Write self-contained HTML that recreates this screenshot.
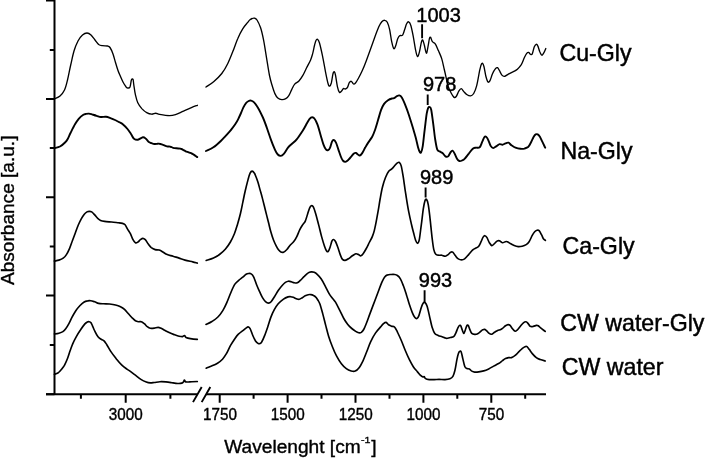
<!DOCTYPE html>
<html><head><meta charset="utf-8"><title>FTIR spectra</title>
<style>
html,body{margin:0;padding:0;background:#fff;}
svg{display:block;font-family:"Liberation Sans",Arial,sans-serif;fill:#000;}
</style></head><body>
<svg width="705" height="458" viewBox="0 0 705 458">
<rect width="705" height="458" fill="#fff"/>
<g fill="none" stroke="#000" stroke-linecap="round" stroke-linejoin="round">
<path d="M54.5 99.0C55.4 98.5 58.3 97.5 60.0 96.0C61.7 94.5 63.2 92.7 64.5 90.0C65.8 87.3 66.5 84.2 67.5 80.0C68.5 75.8 69.6 69.8 70.7 65.0C71.8 60.2 72.8 55.0 74.0 51.0C75.2 47.0 76.6 43.7 78.0 41.0C79.4 38.3 81.0 36.3 82.5 35.0C84.0 33.7 85.6 33.0 87.0 33.0C88.4 33.0 89.7 33.8 91.0 35.0C92.3 36.2 93.7 38.4 95.0 40.0C96.3 41.6 97.5 43.5 98.7 44.5C100.0 45.5 101.0 45.5 102.5 45.7C104.0 46.0 106.2 45.7 107.5 46.0C108.8 46.3 109.1 46.2 110.0 47.5C110.9 48.8 112.1 51.5 113.0 54.0C113.9 56.5 114.7 59.8 115.5 62.5C116.3 65.2 117.2 68.2 118.0 70.5C118.8 72.8 119.7 74.6 120.5 76.5C121.3 78.4 122.2 80.4 123.0 82.0C123.8 83.6 124.8 85.0 125.5 86.0C126.2 87.0 126.3 87.6 127.0 87.8C127.7 88.0 129.2 88.5 129.9 87.2C130.6 85.9 130.9 81.3 131.4 80.0C131.9 78.7 132.6 78.5 133.0 79.3C133.4 80.1 133.4 82.2 133.8 84.8C134.2 87.4 134.7 91.7 135.4 94.7C136.1 97.7 136.7 100.4 137.8 102.7C138.9 105.0 140.3 106.9 141.8 108.6C143.3 110.2 145.0 111.7 146.7 112.6C148.3 113.5 150.2 114.1 151.7 114.2C153.2 114.3 154.4 113.2 155.7 113.2C157.0 113.2 157.3 114.0 159.6 114.4C161.9 114.8 166.9 115.6 169.6 115.6C172.2 115.6 173.2 115.3 175.5 114.6C177.8 113.9 180.8 112.3 183.5 111.2C186.2 110.1 189.1 108.7 191.4 107.7C193.7 106.7 196.4 105.7 197.4 105.3" stroke-width="1.35"/>
<path d="M206.0 87.0C207.3 86.1 211.3 83.7 213.9 81.4C216.5 79.2 219.5 76.5 221.8 73.5C224.1 70.5 226.0 67.2 227.8 63.5C229.6 59.9 231.2 55.7 232.8 51.6C234.5 47.5 236.0 42.5 237.7 38.7C239.3 34.9 241.0 31.5 242.7 28.8C244.4 26.1 246.5 23.9 247.7 22.4C248.9 20.9 249.2 20.4 250.0 19.8C250.8 19.2 251.4 18.8 252.2 18.5C252.9 18.2 253.7 17.9 254.5 18.2C255.3 18.4 256.0 18.4 257.0 20.0C258.0 21.6 259.5 24.5 260.6 27.8C261.7 31.1 262.5 34.7 263.5 39.7C264.5 44.7 265.5 51.6 266.5 57.6C267.5 63.6 268.6 71.0 269.5 75.5C270.4 80.0 271.0 81.7 271.9 84.7C272.8 87.7 273.9 91.4 274.9 93.6C275.9 95.8 276.6 97.0 277.8 98.0C279.0 99.0 280.5 99.5 281.8 99.6C283.1 99.7 284.6 99.3 285.8 98.6C287.0 97.9 287.8 97.1 288.8 95.6C289.8 94.1 290.7 91.5 291.7 89.6C292.7 87.7 293.5 85.5 294.7 84.1C295.9 82.7 297.4 82.7 298.7 81.3C300.0 79.9 301.4 78.0 302.7 75.7C304.0 73.5 305.3 70.4 306.6 67.8C307.9 65.2 309.6 62.2 310.6 59.9C311.6 57.6 311.9 56.4 312.6 53.9C313.3 51.4 314.0 47.2 314.6 45.0C315.2 42.8 315.5 41.5 316.0 40.5C316.5 39.5 316.9 38.9 317.5 39.3C318.1 39.7 318.7 40.2 319.5 43.0C320.3 45.8 321.5 51.1 322.5 55.9C323.5 60.7 324.6 67.2 325.5 71.8C326.4 76.4 327.4 81.3 328.1 83.7C328.8 86.1 329.1 86.3 329.7 86.1C330.2 85.9 330.8 84.8 331.4 82.7C331.9 80.7 332.5 75.6 333.0 73.8C333.5 72.0 334.0 71.5 334.4 71.8C334.8 72.1 335.1 73.2 335.6 75.7C336.1 78.2 336.8 84.0 337.4 86.7C338.0 89.5 338.7 91.5 339.4 92.2C340.1 93.0 340.7 91.8 341.4 91.2C342.1 90.6 342.8 89.0 343.4 88.6C344.0 88.2 344.6 89.2 345.3 89.0C346.0 88.8 346.6 88.8 347.3 87.7C348.0 86.7 348.6 83.8 349.3 82.7C350.0 81.6 350.6 81.1 351.3 81.3C352.0 81.5 352.8 83.7 353.5 84.0C354.2 84.3 354.7 83.9 355.5 83.0C356.3 82.1 357.2 80.5 358.3 78.5C359.4 76.5 360.9 73.7 362.2 70.8C363.5 67.9 364.9 64.4 366.2 60.9C367.5 57.4 368.8 53.7 370.2 49.9C371.6 46.1 373.1 41.9 374.5 38.0C375.9 34.1 377.6 29.5 378.8 26.8C380.0 24.1 380.8 22.9 381.8 21.8C382.8 20.7 383.8 20.2 384.7 20.3C385.6 20.4 386.5 20.6 387.3 22.2C388.1 23.8 389.0 26.6 389.7 29.8C390.4 33.1 391.0 38.6 391.7 41.7C392.4 44.8 393.0 47.9 393.7 48.6C394.4 49.3 395.0 47.4 395.7 45.7C396.4 44.1 397.0 40.4 397.7 38.7C398.4 37.0 398.8 36.3 399.6 35.7C400.4 35.1 401.8 36.1 402.6 35.1C403.4 34.1 403.9 31.7 404.6 29.8C405.3 27.9 405.9 25.1 406.6 23.8C407.3 22.5 407.9 21.6 408.6 21.8C409.3 22.0 409.9 22.5 410.6 24.8C411.4 27.1 412.3 31.6 413.1 35.7C413.9 39.8 414.8 46.1 415.5 49.6C416.2 53.1 416.8 56.3 417.5 56.6C418.2 56.9 418.8 54.1 419.5 51.6C420.2 49.1 420.9 43.6 421.5 41.7C422.1 39.8 422.4 39.6 422.9 40.3C423.4 41.0 423.9 43.6 424.5 45.7C425.1 47.9 425.8 53.0 426.4 53.2C427.0 53.4 427.5 49.1 428.0 46.7C428.5 44.3 429.0 40.3 429.4 38.7C429.8 37.1 430.1 36.8 430.6 37.3C431.1 37.8 431.6 40.6 432.4 41.7C433.2 42.8 434.4 42.6 435.4 44.1C436.4 45.6 437.3 48.2 438.4 50.6C439.4 53.0 440.7 55.5 441.7 58.6C442.7 61.8 443.5 66.2 444.3 69.5C445.1 72.8 445.7 75.7 446.3 78.4C446.9 81.1 447.1 83.2 447.9 85.6C448.7 87.9 449.9 90.6 450.9 92.5C451.9 94.4 452.9 96.4 453.8 97.1C454.7 97.8 455.4 97.5 456.2 96.5C457.0 95.5 458.0 92.5 458.8 91.2C459.6 89.9 460.4 88.5 461.2 88.6C462.0 88.7 462.9 90.6 463.8 91.6C464.7 92.6 465.6 93.8 466.7 94.5C467.8 95.2 469.5 96.1 470.7 95.9C471.9 95.7 472.7 95.2 473.7 93.5C474.7 91.8 475.7 89.4 476.7 85.6C477.7 81.8 478.9 74.2 479.6 70.7C480.4 67.2 480.7 65.9 481.2 64.7C481.7 63.5 482.1 63.1 482.6 63.4C483.1 63.7 483.4 64.5 484.0 66.7C484.6 68.9 485.3 74.2 486.0 76.7C486.7 79.2 487.3 81.3 488.0 82.0C488.7 82.7 489.2 82.0 490.0 80.6C490.8 79.2 491.6 75.7 492.5 73.7C493.4 71.7 494.7 69.7 495.5 68.7C496.3 67.7 496.8 67.4 497.5 67.7C498.2 68.0 498.8 69.5 499.5 70.7C500.2 71.9 501.1 74.2 501.9 75.1C502.7 76.0 503.4 76.5 504.5 76.3C505.6 76.1 506.9 74.9 508.4 74.1C509.9 73.3 511.9 72.5 513.4 71.7C514.9 70.9 516.1 70.5 517.4 69.3C518.7 68.1 520.1 66.6 521.3 64.7C522.4 62.8 523.4 59.7 524.3 57.8C525.2 55.9 526.0 54.3 526.7 53.4C527.4 52.5 528.1 52.3 528.7 52.4C529.3 52.5 529.7 54.0 530.3 54.2C530.9 54.4 531.6 55.0 532.3 53.8C532.9 52.6 533.6 48.5 534.2 46.9C534.9 45.3 535.6 44.5 536.2 44.3C536.8 44.1 537.2 44.6 537.8 45.9C538.4 47.1 539.1 50.2 539.8 51.8C540.5 53.3 541.1 55.0 541.8 55.2C542.5 55.4 543.1 53.9 543.8 52.8C544.5 51.7 545.5 49.2 545.8 48.5" stroke-width="1.35"/>
<path d="M54.5 148.2C55.4 147.9 58.2 147.4 60.0 146.5C61.8 145.6 63.7 143.8 65.0 142.5C66.3 141.2 66.8 140.6 67.7 139.0C68.6 137.4 69.3 135.4 70.5 133.0C71.7 130.6 73.6 126.6 75.0 124.3C76.4 122.0 77.4 120.5 78.7 118.9C80.0 117.4 81.8 115.8 83.0 115.0C84.2 114.2 85.0 114.1 86.0 113.9C87.0 113.7 87.9 113.5 88.9 113.6C89.9 113.7 90.7 114.0 92.0 114.4C93.3 114.8 95.1 115.4 96.6 115.8C98.1 116.2 99.3 116.8 100.9 117.0C102.5 117.2 104.3 116.6 106.0 116.8C107.7 117.0 109.5 117.8 111.0 118.3C112.5 118.8 113.6 119.3 115.0 120.0C116.4 120.7 118.3 121.6 119.6 122.3C120.8 123.0 121.2 122.9 122.5 124.0C123.8 125.1 126.1 127.3 127.5 129.0C128.9 130.7 129.9 132.4 131.0 134.0C132.1 135.6 132.8 137.8 134.0 138.7C135.2 139.6 136.4 139.9 137.9 139.7C139.4 139.5 141.6 137.5 142.9 137.3C144.2 137.1 144.9 137.9 145.9 138.7C146.9 139.5 148.0 141.3 148.9 142.1C149.8 142.8 150.6 142.9 151.5 143.2C152.4 143.5 153.4 143.9 154.3 144.0C155.2 144.1 156.2 144.0 157.0 143.9C157.8 143.8 158.4 143.5 159.4 143.7C160.4 143.8 161.7 144.4 163.0 144.8C164.3 145.2 165.8 146.0 167.0 146.3C168.2 146.6 169.4 146.4 170.4 146.7C171.4 146.9 172.0 147.5 173.0 147.8C174.0 148.1 175.2 148.2 176.5 148.3C177.8 148.5 179.5 148.4 180.6 148.7C181.7 148.9 182.2 149.4 183.0 149.8C183.8 150.2 184.8 150.9 185.7 151.3C186.6 151.7 187.7 152.0 188.7 152.4C189.7 152.8 190.7 153.1 191.7 153.5C192.7 153.9 193.6 154.5 194.5 155.1C195.4 155.7 196.8 156.8 197.3 157.1" stroke-width="1.9"/>
<path d="M206.0 151.0C207.2 150.4 210.8 149.1 213.4 147.3C216.0 145.6 219.4 142.3 221.3 140.5C223.2 138.7 223.7 138.0 225.0 136.6C226.3 135.2 228.2 133.1 229.3 131.8C230.4 130.6 230.6 130.4 231.6 129.1C232.6 127.8 234.1 125.8 235.2 124.2C236.3 122.6 237.2 121.1 238.1 119.3C239.0 117.5 239.9 115.5 240.8 113.5C241.7 111.5 242.5 109.1 243.4 107.3C244.3 105.5 245.3 103.8 246.2 102.8C247.1 101.8 247.9 101.4 248.7 101.0C249.5 100.6 250.2 100.4 251.1 100.6C252.0 100.8 252.9 101.2 254.1 102.4C255.3 103.6 256.6 105.4 258.1 107.9C259.6 110.4 261.4 114.2 262.9 117.5C264.4 120.8 265.6 124.3 266.9 128.0C268.2 131.7 269.6 136.0 270.9 139.6C272.2 143.2 273.8 147.1 274.9 149.6C276.0 152.1 276.8 153.4 277.8 154.5C278.8 155.6 279.8 156.0 280.8 155.9C281.8 155.8 282.6 155.2 283.8 153.9C285.0 152.6 286.5 149.5 287.8 147.8C289.1 146.2 290.2 145.4 291.7 144.0C293.2 142.6 294.9 141.5 296.7 139.3C298.5 137.1 301.0 133.3 302.7 130.7C304.4 128.1 305.5 125.8 306.6 123.8C307.8 121.8 308.7 119.9 309.6 118.8C310.5 117.7 311.4 117.2 312.2 117.2C313.0 117.2 313.7 117.5 314.6 118.8C315.5 120.0 316.5 122.1 317.5 124.7C318.5 127.3 319.5 131.4 320.5 134.7C321.5 138.0 322.6 142.1 323.5 144.6C324.4 147.1 325.3 148.7 326.1 149.6C326.9 150.5 327.4 150.5 328.1 150.2C328.8 149.9 329.5 149.0 330.1 147.6C330.8 146.2 331.4 142.9 332.0 141.6C332.6 140.3 333.1 139.8 333.8 140.0C334.5 140.2 335.2 141.0 336.0 142.6C336.8 144.2 337.6 147.3 338.4 149.6C339.2 151.9 340.1 154.7 340.8 156.5C341.5 158.3 342.1 159.6 342.8 160.5C343.6 161.4 344.4 162.0 345.3 161.9C346.2 161.8 347.3 160.8 348.3 159.9C349.3 159.0 350.4 157.6 351.3 156.5C352.2 155.4 353.1 154.1 353.9 153.5C354.7 152.9 355.2 152.7 355.9 152.9C356.6 153.1 357.2 154.1 357.9 154.5C358.5 154.9 359.1 155.7 359.8 155.5C360.5 155.3 361.3 154.4 362.2 153.1C363.1 151.8 364.2 149.3 365.2 147.6C366.2 145.8 367.0 144.4 368.2 142.6C369.4 140.8 371.0 138.8 372.2 136.7C373.4 134.5 374.1 132.5 375.1 129.7C376.1 126.9 377.1 123.1 378.1 119.8C379.1 116.5 380.1 112.6 381.1 109.9C382.1 107.2 383.0 105.5 384.1 103.9C385.2 102.3 386.7 101.2 388.0 100.3C389.3 99.4 391.0 98.8 392.0 98.5C393.0 98.2 393.2 98.6 394.0 98.2C394.8 97.8 396.0 96.7 396.9 96.2C397.8 95.7 398.5 95.2 399.3 95.4C400.1 95.6 400.9 96.0 401.8 97.4C402.7 98.8 403.6 100.9 404.8 103.8C406.0 106.7 407.5 110.7 408.8 114.7C410.1 118.7 411.7 123.8 412.8 127.6C413.9 131.4 414.8 134.2 415.7 137.5C416.6 140.8 417.4 145.0 418.1 147.4C418.8 149.8 419.2 151.0 419.7 151.8C420.2 152.6 420.6 153.3 421.1 152.4C421.6 151.5 422.1 150.2 422.7 146.4C423.3 142.6 424.0 135.0 424.7 129.6C425.4 124.1 426.1 117.3 426.7 113.7C427.3 110.1 427.8 108.8 428.3 107.7C428.8 106.6 429.1 106.8 429.6 107.1C430.1 107.4 430.6 107.0 431.2 109.7C431.8 112.5 432.5 118.6 433.2 123.6C433.9 128.6 434.5 135.2 435.2 139.5C435.9 143.8 436.5 147.4 437.2 149.4C437.9 151.4 438.7 150.8 439.6 151.4C440.5 152.0 441.5 152.2 442.5 153.0C443.5 153.8 444.6 155.8 445.5 156.4C446.4 157.0 447.3 157.1 448.1 156.4C448.9 155.7 449.8 153.4 450.5 152.4C451.2 151.4 451.8 150.4 452.5 150.6C453.2 150.8 453.8 152.0 454.5 153.4C455.2 154.8 456.2 157.5 457.0 158.8C457.8 160.1 458.6 160.7 459.4 161.0C460.2 161.3 461.1 160.9 462.0 160.5C462.9 160.1 463.7 159.8 464.8 158.6C465.9 157.4 467.5 155.2 468.8 153.6C470.1 151.9 471.7 149.7 472.8 148.7C473.9 147.7 474.6 147.9 475.7 147.7C476.8 147.5 478.6 148.3 479.7 147.3C480.8 146.3 481.5 143.4 482.3 141.7C483.1 140.0 483.7 138.1 484.3 137.3C484.9 136.5 485.5 136.3 486.1 136.7C486.7 137.1 487.4 138.2 488.1 139.7C488.9 141.2 489.8 144.3 490.6 145.7C491.5 147.1 492.2 148.0 493.2 148.1C494.2 148.2 495.5 146.8 496.6 146.1C497.7 145.4 498.6 144.3 499.6 144.1C500.6 143.9 501.5 144.8 502.5 144.7C503.5 144.6 504.5 143.6 505.5 143.3C506.5 143.0 507.5 142.4 508.5 142.7C509.5 143.0 510.3 144.5 511.5 145.3C512.7 146.1 514.0 147.1 515.5 147.7C517.0 148.3 518.9 148.7 520.4 148.8C521.9 149.0 523.1 148.9 524.4 148.6C525.7 148.2 527.2 147.8 528.4 146.7C529.5 145.5 530.4 143.4 531.3 141.7C532.2 140.0 533.0 137.9 533.7 136.7C534.4 135.5 535.0 134.8 535.7 134.4C536.4 134.0 537.0 134.0 537.7 134.4C538.4 134.8 539.1 135.5 539.9 136.7C540.7 137.9 541.4 139.9 542.3 141.7C543.2 143.5 544.7 146.7 545.2 147.7" stroke-width="1.9"/>
<path d="M54.4 261.1C55.1 260.9 57.4 260.6 58.9 260.1C60.4 259.6 62.0 259.0 63.2 258.1C64.5 257.2 65.4 256.2 66.4 254.6C67.5 253.0 68.5 250.9 69.5 248.6C70.5 246.3 71.4 243.3 72.4 240.7C73.4 238.0 74.4 235.3 75.4 232.7C76.4 230.0 77.4 227.2 78.4 224.8C79.4 222.5 80.4 220.4 81.4 218.6C82.4 216.8 83.4 215.3 84.3 214.2C85.2 213.1 86.2 212.4 87.0 211.9C87.8 211.4 88.5 211.3 89.3 211.3C90.1 211.3 90.8 211.3 91.7 211.9C92.6 212.5 93.7 213.8 94.7 214.9C95.7 216.0 96.7 217.5 97.7 218.4C98.7 219.3 99.4 219.9 100.6 220.4C101.8 220.9 102.8 221.1 104.6 221.4C106.4 221.7 109.3 221.8 111.6 222.0C113.9 222.2 116.7 222.6 118.5 222.8C120.3 223.0 121.4 223.1 122.5 223.4C123.6 223.7 124.3 223.9 125.1 224.8C125.9 225.7 126.5 227.3 127.4 228.8C128.3 230.3 129.5 231.9 130.4 233.7C131.3 235.5 132.2 238.2 133.0 239.7C133.8 241.2 134.6 242.3 135.4 242.7C136.2 243.1 137.0 242.6 137.8 242.1C138.6 241.6 139.6 240.3 140.4 239.7C141.2 239.1 142.1 238.3 142.9 238.3C143.7 238.3 144.4 238.8 145.3 239.7C146.2 240.6 147.3 242.7 148.3 244.0C149.3 245.3 150.2 246.7 151.3 247.6C152.5 248.5 153.9 249.2 155.2 249.6C156.5 250.0 157.9 249.6 159.2 250.0C160.5 250.4 161.9 251.4 163.2 252.2C164.5 253.0 165.5 253.9 167.2 254.6C168.8 255.3 171.1 255.6 173.1 256.2C175.1 256.8 177.1 257.5 179.1 258.1C181.1 258.8 182.7 259.5 185.0 260.1C187.3 260.7 190.6 261.4 192.7 261.9C194.8 262.4 196.5 262.9 197.3 263.1" stroke-width="1.65"/>
<path d="M206.2 260.5C207.4 260.1 211.3 259.1 213.5 258.1C215.7 257.1 217.5 256.0 219.5 254.5C221.5 253.0 223.7 251.1 225.5 249.0C227.3 246.9 228.9 244.6 230.4 242.0C231.9 239.4 233.2 236.6 234.4 233.7C235.6 230.8 236.4 228.0 237.4 224.7C238.4 221.4 239.5 217.6 240.4 213.8C241.3 210.0 242.1 205.7 242.9 201.9C243.7 198.1 244.3 194.8 245.2 191.0C246.1 187.2 247.3 182.4 248.1 179.4C248.9 176.4 249.4 174.5 250.1 173.1C250.8 171.7 251.4 171.1 252.1 171.1C252.8 171.1 253.7 172.1 254.3 173.0C255.0 173.9 255.4 175.3 256.0 176.8C256.6 178.3 257.1 179.7 257.8 181.8C258.5 183.9 259.3 187.1 260.0 189.6C260.7 192.1 261.4 194.4 262.1 197.1C262.8 199.8 263.6 202.9 264.3 205.8C265.0 208.7 265.8 211.7 266.5 214.6C267.2 217.5 268.0 220.4 268.7 223.3C269.4 226.2 270.1 229.3 270.9 232.1C271.7 234.9 272.6 237.7 273.5 240.0C274.4 242.3 275.5 244.6 276.3 246.2C277.1 247.8 277.7 248.8 278.5 249.8C279.3 250.8 280.1 251.6 280.9 252.0C281.7 252.4 282.5 252.6 283.5 252.2C284.5 251.8 285.8 250.6 286.9 249.5C288.0 248.4 288.8 246.8 289.9 245.5C291.0 244.2 292.6 243.0 293.8 241.5C295.0 240.0 295.8 238.6 296.8 236.6C297.8 234.6 298.8 231.6 299.8 229.6C300.8 227.6 301.9 226.0 302.8 224.6C303.7 223.2 304.5 222.9 305.3 221.1C306.1 219.3 307.0 215.9 307.7 213.7C308.4 211.5 309.1 209.1 309.7 207.8C310.3 206.5 310.7 206.0 311.3 205.8C311.9 205.6 312.6 205.5 313.3 206.8C314.0 208.1 314.8 210.7 315.7 213.7C316.6 216.7 317.6 220.8 318.6 224.6C319.6 228.4 320.6 232.9 321.6 236.6C322.6 240.2 323.8 244.1 324.6 246.5C325.4 248.9 326.0 250.1 326.6 250.9C327.2 251.7 327.6 252.0 328.2 251.4C328.8 250.8 329.4 249.2 330.0 247.5C330.6 245.8 331.4 242.2 332.0 240.9C332.6 239.6 332.9 239.4 333.5 239.5C334.1 239.6 334.8 240.2 335.5 241.5C336.2 242.8 337.1 245.2 337.9 247.5C338.7 249.8 339.7 253.4 340.5 255.4C341.3 257.4 341.7 258.6 342.5 259.4C343.3 260.2 344.1 260.5 345.1 260.4C346.1 260.3 347.2 259.6 348.4 258.8C349.6 258.0 351.2 256.6 352.4 255.8C353.6 255.0 354.8 254.0 355.8 253.8C356.8 253.6 357.5 254.1 358.4 254.4C359.2 254.7 360.1 256.0 360.9 255.8C361.7 255.6 362.4 254.6 363.3 253.4C364.2 252.2 365.3 250.3 366.3 248.5C367.3 246.7 368.3 244.5 369.3 242.5C370.3 240.5 371.5 238.6 372.3 236.6C373.1 234.6 373.7 233.1 374.3 230.6C374.9 228.1 375.6 225.0 376.2 221.7C376.8 218.4 377.5 214.6 378.2 210.7C378.9 206.8 379.5 202.4 380.2 198.5C380.9 194.6 381.6 190.5 382.5 187.0C383.4 183.5 384.4 180.2 385.5 177.5C386.6 174.8 387.8 172.4 388.9 171.0C389.9 169.6 390.8 169.8 391.8 168.9C392.8 168.0 393.9 166.5 394.8 165.5C395.7 164.5 396.6 163.4 397.4 162.9C398.2 162.4 398.8 162.0 399.4 162.5C400.0 163.0 400.5 163.3 401.2 165.9C401.9 168.5 402.6 173.2 403.4 177.8C404.1 182.4 404.8 188.1 405.7 193.7C406.6 199.3 407.7 206.5 408.7 211.6C409.7 216.7 410.7 221.0 411.5 224.5C412.3 228.0 412.8 229.9 413.5 232.5C414.2 235.1 414.9 238.4 415.6 240.2C416.3 242.0 416.9 243.4 417.5 243.3C418.1 243.2 418.7 242.8 419.3 239.7C419.9 236.6 420.6 229.9 421.3 224.8C422.0 219.7 422.7 212.9 423.3 208.9C423.9 204.9 424.4 202.6 424.9 201.0C425.4 199.4 425.9 198.8 426.5 199.4C427.1 200.1 427.7 201.3 428.3 204.9C428.9 208.5 429.7 215.2 430.3 220.8C430.9 226.4 431.6 233.9 432.2 238.7C432.8 243.5 433.2 247.0 433.8 249.6C434.4 252.2 435.0 253.3 435.8 254.2C436.6 255.1 437.8 255.0 438.8 255.2C439.8 255.4 440.7 255.0 441.8 255.2C442.9 255.4 444.2 256.3 445.3 256.2C446.4 256.1 447.2 255.3 448.1 254.6C449.0 253.9 449.9 252.6 450.7 252.2C451.5 251.8 451.9 251.6 452.7 252.2C453.5 252.8 454.4 254.5 455.3 255.6C456.2 256.7 457.2 258.2 458.3 258.9C459.4 259.6 460.6 259.9 461.6 259.9C462.7 259.9 463.4 259.8 464.6 258.9C465.8 258.0 467.3 256.1 468.6 254.6C469.9 253.2 471.4 251.3 472.5 250.2C473.6 249.1 474.5 248.8 475.5 248.2C476.5 247.6 477.6 247.7 478.5 246.6C479.4 245.5 480.3 243.3 481.1 241.7C481.9 240.1 482.4 238.1 483.1 237.1C483.8 236.1 484.5 235.6 485.1 235.7C485.8 235.8 486.3 236.5 487.0 237.7C487.7 238.9 488.6 241.4 489.4 242.7C490.2 244.0 491.0 245.4 491.8 245.6C492.6 245.8 493.5 244.3 494.4 243.6C495.3 242.8 496.2 241.6 497.0 241.1C497.8 240.6 498.5 240.4 499.4 240.7C500.3 241.0 501.3 242.5 502.3 242.7C503.3 242.9 504.5 241.9 505.3 241.7C506.1 241.5 506.5 241.4 507.3 241.7C508.1 242.0 509.1 242.9 510.3 243.6C511.5 244.2 512.9 245.1 514.2 245.6C515.5 246.1 516.9 246.5 518.2 246.6C519.5 246.7 520.9 246.5 522.2 246.2C523.5 245.9 525.1 245.3 526.2 244.6C527.4 243.8 528.1 243.2 529.1 241.7C530.1 240.2 531.2 237.4 532.1 235.7C533.0 234.0 533.9 232.6 534.7 231.7C535.5 230.8 536.4 230.5 537.1 230.3C537.8 230.1 538.4 230.0 539.1 230.7C539.8 231.4 540.8 233.4 541.5 234.7C542.2 236.0 542.8 237.8 543.4 238.7C544.0 239.6 545.1 240.0 545.4 240.3" stroke-width="1.65"/>
<path d="M54.4 334.0C55.1 333.9 57.5 333.6 58.9 333.2C60.3 332.8 61.7 332.4 62.9 331.6C64.1 330.8 64.9 329.9 65.9 328.6C66.9 327.3 67.9 325.5 68.9 323.7C69.9 321.9 70.7 319.8 71.8 317.7C72.9 315.6 74.5 312.8 75.8 310.8C77.1 308.8 78.5 307.2 79.8 305.8C81.1 304.4 82.5 303.0 83.8 302.2C85.1 301.4 86.5 301.1 87.7 300.9C88.9 300.6 89.5 300.5 90.7 300.7C91.9 300.9 93.4 301.4 94.7 301.8C96.0 302.2 97.1 303.1 98.6 303.4C100.1 303.7 101.8 303.7 103.6 303.8C105.4 303.9 107.6 303.8 109.6 304.0C111.6 304.2 113.7 304.5 115.5 305.0C117.3 305.5 119.0 306.1 120.5 306.8C122.0 307.5 123.2 308.2 124.5 309.4C125.8 310.6 127.1 312.4 128.4 313.8C129.7 315.2 131.2 317.0 132.4 318.1C133.6 319.2 134.4 320.1 135.4 320.7C136.4 321.3 137.4 321.5 138.4 321.7C139.4 321.9 140.3 321.4 141.3 321.7C142.3 322.0 143.3 322.9 144.3 323.7C145.3 324.5 146.3 325.9 147.3 326.7C148.3 327.5 149.1 328.1 150.3 328.3C151.5 328.5 153.0 328.3 154.3 328.1C155.6 327.9 157.0 327.3 158.2 327.3C159.3 327.3 160.0 327.8 161.2 328.3C162.4 328.9 163.9 329.9 165.2 330.6C166.5 331.3 167.6 331.9 169.1 332.6C170.6 333.3 172.4 334.0 174.1 334.6C175.8 335.2 177.7 335.9 179.1 336.2C180.5 336.5 181.7 336.7 182.6 336.6C183.5 336.5 183.9 335.4 184.5 335.5C185.1 335.6 185.0 336.9 186.0 337.4C187.0 337.9 188.5 338.3 190.4 338.6C192.3 338.9 196.2 339.3 197.3 339.4" stroke-width="1.65"/>
<path d="M206.0 324.5C207.0 324.0 209.9 322.8 211.9 321.5C213.9 320.2 216.1 318.8 217.9 317.0C219.7 315.2 221.3 313.0 222.8 310.6C224.3 308.2 225.5 305.7 226.8 302.7C228.1 299.7 229.5 295.8 230.8 292.7C232.1 289.6 233.4 286.4 234.7 284.4C236.0 282.3 237.4 281.6 238.7 280.4C240.0 279.2 241.5 278.2 242.7 277.2C243.9 276.2 245.1 274.9 246.1 274.3C247.1 273.7 247.8 273.6 248.6 273.5C249.4 273.4 250.4 273.3 251.2 273.9C252.0 274.4 252.7 275.0 253.6 276.8C254.5 278.6 255.6 282.3 256.6 284.8C257.6 287.3 258.6 289.6 259.6 291.7C260.6 293.8 261.5 296.0 262.5 297.7C263.5 299.4 264.5 300.8 265.5 301.7C266.5 302.6 267.6 303.1 268.5 303.1C269.4 303.1 270.1 302.8 271.1 301.7C272.1 300.6 273.3 298.6 274.5 296.7C275.7 294.8 277.1 292.2 278.4 290.3C279.7 288.4 281.2 286.5 282.4 285.2C283.6 283.9 284.4 283.1 285.4 282.4C286.4 281.7 287.4 281.3 288.4 281.2C289.4 281.1 290.3 281.5 291.3 281.8C292.3 282.1 293.3 282.6 294.3 282.8C295.3 283.0 296.3 283.2 297.3 282.8C298.3 282.4 299.1 281.5 300.3 280.4C301.5 279.3 303.0 277.6 304.3 276.4C305.6 275.1 307.1 273.6 308.2 272.9C309.3 272.1 310.2 272.0 311.2 271.9C312.2 271.8 313.2 271.9 314.2 272.3C315.2 272.7 316.0 273.2 317.2 274.3C318.4 275.4 319.8 276.9 321.1 278.8C322.4 280.7 323.8 283.3 325.1 285.8C326.4 288.3 328.0 291.7 329.1 293.7C330.2 295.7 330.9 296.3 332.0 297.7C333.1 299.1 334.2 300.0 335.5 302.2C336.8 304.4 338.5 307.9 339.9 310.6C341.3 313.3 342.5 316.2 343.8 318.5C345.1 320.8 346.5 322.8 347.8 324.5C349.1 326.2 350.5 327.4 351.8 328.5C353.1 329.6 354.6 330.7 355.7 331.4C356.8 332.1 357.8 332.6 358.7 332.8C359.6 333.0 360.5 332.9 361.3 332.4C362.1 331.8 362.8 331.1 363.7 329.5C364.6 327.9 365.7 325.0 366.7 322.5C367.7 320.0 368.6 317.2 369.6 314.6C370.6 312.0 371.6 309.2 372.6 306.6C373.6 304.0 374.6 301.4 375.6 298.7C376.6 296.0 377.6 293.3 378.6 290.7C379.6 288.1 380.6 285.1 381.6 282.8C382.6 280.6 383.5 278.5 384.5 277.2C385.5 275.9 386.4 275.3 387.5 274.9C388.6 274.4 389.9 274.6 391.1 274.5C392.3 274.4 393.4 274.3 394.5 274.5C395.6 274.7 396.4 274.8 397.4 275.5C398.4 276.2 399.4 277.1 400.4 278.8C401.4 280.5 402.4 283.2 403.4 285.8C404.4 288.4 405.4 291.6 406.4 294.7C407.4 297.8 408.4 301.6 409.4 304.6C410.4 307.6 411.4 310.5 412.3 312.6C413.2 314.8 414.1 316.5 414.9 317.5C415.7 318.5 416.2 318.8 416.9 318.5C417.6 318.2 418.2 317.4 418.9 315.6C419.6 313.8 420.6 309.7 421.3 307.6C422.0 305.5 422.7 303.9 423.3 303.1C423.9 302.3 424.6 302.1 425.2 302.7C425.8 303.3 426.5 304.3 427.2 306.6C427.9 308.9 428.8 313.1 429.6 316.6C430.4 320.1 431.3 324.7 432.2 327.5C433.1 330.3 433.8 332.1 434.8 333.4C435.8 334.7 437.0 334.8 438.2 335.4C439.4 336.0 440.8 336.3 442.1 336.8C443.4 337.3 444.7 338.2 446.1 338.3C447.5 338.4 449.2 337.8 450.5 337.5C451.8 337.2 453.0 337.1 453.9 336.3C454.8 335.5 455.2 334.2 455.9 332.8C456.6 331.4 457.3 329.0 457.9 327.8C458.5 326.6 459.0 325.7 459.5 325.4C460.0 325.1 460.4 325.1 460.8 325.8C461.2 326.5 461.7 328.5 462.2 329.8C462.7 331.1 463.3 333.4 463.8 333.4C464.3 333.4 464.9 331.1 465.4 329.8C465.9 328.5 466.3 326.5 466.8 325.8C467.3 325.1 467.7 324.8 468.2 325.4C468.7 326.0 469.2 328.1 469.8 329.4C470.4 330.7 471.0 332.6 471.8 333.4C472.6 334.2 473.7 334.3 474.7 334.4C475.7 334.5 476.7 334.3 477.7 333.8C478.7 333.3 479.9 332.1 480.7 331.4C481.5 330.7 482.0 330.1 482.7 329.8C483.4 329.5 484.0 329.2 484.7 329.4C485.4 329.6 485.9 330.1 486.7 330.8C487.4 331.5 488.4 332.8 489.2 333.4C490.0 334.0 490.7 334.4 491.6 334.2C492.5 334.0 493.6 332.8 494.6 332.2C495.6 331.6 496.7 330.8 497.6 330.4C498.5 330.0 499.4 330.1 500.2 329.8C501.0 329.5 501.6 329.1 502.5 328.4C503.4 327.7 504.6 326.4 505.5 325.8C506.4 325.2 507.3 324.7 508.1 324.6C508.9 324.5 509.4 324.7 510.1 325.4C510.8 326.1 511.7 327.8 512.5 328.8C513.3 329.8 514.3 331.0 515.1 331.2C515.9 331.4 516.5 330.6 517.4 329.8C518.3 329.0 519.4 327.4 520.4 326.2C521.4 325.0 522.5 323.5 523.4 322.8C524.3 322.1 525.2 321.7 526.0 321.8C526.8 321.9 527.3 322.6 528.0 323.4C528.7 324.2 529.4 325.9 530.3 326.4C531.2 326.9 532.3 326.6 533.3 326.4C534.3 326.2 535.5 325.5 536.3 325.4C537.1 325.3 537.5 325.3 538.3 325.8C539.1 326.3 540.1 327.5 541.3 328.4C542.4 329.3 544.6 330.9 545.2 331.4" stroke-width="1.65"/>
<path d="M54.4 374.3C55.0 374.1 56.9 373.6 57.9 373.0C58.9 372.4 59.6 371.5 60.5 370.5C61.4 369.5 62.4 368.2 63.1 367.2C63.8 366.2 64.1 366.1 64.8 364.6C65.5 363.2 66.6 360.8 67.5 358.5C68.4 356.2 69.2 353.2 70.1 350.8C71.0 348.4 71.7 346.1 72.7 343.8C73.7 341.5 74.9 339.1 76.2 336.8C77.5 334.5 79.1 332.0 80.6 329.8C82.0 327.6 83.8 325.2 84.9 323.9C86.0 322.6 86.6 322.4 87.3 322.0C88.0 321.6 88.7 321.6 89.3 321.7C89.9 321.8 90.5 322.1 91.0 322.8C91.5 323.5 91.9 324.5 92.5 325.8C93.1 327.1 93.6 328.7 94.5 330.5C95.4 332.3 96.8 335.3 98.0 336.8C99.2 338.3 100.5 338.8 101.5 339.5C102.5 340.2 103.1 339.9 104.0 340.8C104.9 341.7 105.6 342.9 106.8 344.7C108.0 346.5 109.5 349.5 111.1 351.9C112.7 354.3 114.7 356.8 116.4 359.0C118.2 361.2 119.8 363.2 121.6 364.9C123.3 366.6 125.5 368.1 126.9 369.1C128.3 370.1 128.6 370.1 130.0 371.1C131.4 372.1 133.5 373.8 135.4 375.2C137.3 376.6 139.5 378.5 141.3 379.6C143.1 380.7 144.8 381.4 146.3 382.0C147.8 382.6 149.0 382.8 150.3 382.9C151.6 383.0 152.7 382.7 154.3 382.5C155.9 382.3 158.0 381.8 159.9 381.7C161.8 381.6 163.9 381.7 165.9 381.9C167.9 382.1 169.8 382.4 171.8 382.7C173.8 383.0 176.1 383.4 177.8 383.5C179.5 383.6 180.9 383.4 181.8 383.1C182.7 382.8 183.0 382.4 183.4 381.9C183.8 381.4 184.0 380.0 184.4 380.0C184.8 380.0 184.8 381.6 185.7 381.9C186.6 382.2 187.8 382.0 189.7 381.9C191.6 381.8 196.0 381.6 197.3 381.5" stroke-width="1.65"/>
<path d="M206.2 368.2C207.1 367.8 209.7 366.8 211.6 366.0C213.5 365.2 215.7 364.3 217.5 363.2C219.3 362.1 221.0 360.8 222.5 359.2C224.0 357.6 225.1 355.9 226.4 353.7C227.7 351.4 229.0 348.2 230.4 345.7C231.8 343.2 233.7 340.4 235.0 338.5C236.3 336.6 237.1 335.5 238.4 334.2C239.7 332.9 241.6 331.6 242.9 330.6C244.2 329.6 245.1 328.7 246.0 328.1C246.9 327.5 247.4 326.8 248.1 326.9C248.8 327.0 249.3 327.2 250.1 328.6C250.9 330.0 251.8 333.1 252.7 335.2C253.6 337.3 254.6 339.6 255.5 341.0C256.4 342.4 257.6 343.2 258.3 343.6C259.1 344.0 259.4 343.8 260.0 343.5C260.6 343.2 261.1 343.1 261.8 341.8C262.6 340.5 263.5 338.4 264.5 335.9C265.5 333.4 266.7 329.9 267.8 326.7C268.9 323.5 269.9 319.7 271.0 316.9C272.1 314.1 273.1 311.9 274.3 309.7C275.5 307.5 276.7 305.6 278.2 303.8C279.7 302.1 281.9 300.4 283.5 299.2C285.1 298.0 286.8 297.3 288.0 296.9C289.2 296.5 289.7 296.6 290.6 296.7C291.5 296.8 292.4 297.0 293.3 297.3C294.2 297.6 295.3 298.4 296.3 298.7C297.3 299.0 298.3 299.5 299.3 299.3C300.3 299.1 301.3 298.3 302.3 297.7C303.3 297.1 304.2 296.2 305.2 295.7C306.2 295.2 307.2 294.9 308.2 294.7C309.1 294.5 310.0 294.5 310.9 294.6C311.8 294.7 312.7 295.0 313.5 295.4C314.3 295.8 315.1 296.3 315.8 297.1C316.6 297.9 317.3 299.2 318.0 300.3C318.7 301.4 319.0 301.6 319.8 303.8C320.6 306.0 321.7 310.0 322.7 313.6C323.7 317.2 324.7 321.6 325.7 325.4C326.7 329.2 327.5 332.6 328.6 336.2C329.7 339.8 331.2 343.7 332.5 347.0C333.8 350.3 335.0 353.1 336.5 355.9C338.0 358.7 339.8 361.7 341.4 363.8C343.0 365.9 344.7 367.5 346.3 368.7C347.9 369.9 349.7 370.6 351.2 371.0C352.7 371.4 353.9 371.7 355.2 371.1C356.5 370.6 357.8 369.4 359.1 367.7C360.4 366.0 361.7 363.4 363.0 360.8C364.3 358.2 365.4 355.0 366.7 351.8C368.0 348.6 369.1 345.0 370.6 341.8C372.1 338.6 373.9 335.4 375.6 332.9C377.3 330.4 379.3 328.4 380.6 326.9C381.9 325.3 382.6 324.4 383.5 323.6C384.4 322.9 385.3 322.2 386.1 322.4C386.9 322.6 387.6 324.2 388.5 324.8C389.4 325.4 390.5 325.8 391.5 326.2C392.5 326.6 393.5 326.0 394.5 327.0C395.5 328.0 396.2 329.7 397.4 332.0C398.5 334.3 400.1 337.7 401.4 340.8C402.7 343.9 404.1 347.7 405.4 350.8C406.7 353.9 408.1 357.1 409.4 359.7C410.7 362.3 412.0 364.7 413.3 366.7C414.6 368.7 416.1 370.2 417.3 371.6C418.5 373.0 419.4 374.3 420.3 375.2C421.2 376.1 422.2 376.8 422.9 377.0C423.5 377.2 423.8 376.3 424.2 376.6C424.6 376.9 424.8 378.1 425.6 378.6C426.4 379.1 427.8 379.4 429.2 379.6C430.6 379.8 432.5 379.6 434.2 379.6C435.9 379.6 437.3 379.4 439.1 379.4C440.9 379.4 443.2 379.7 445.0 379.6C446.8 379.5 448.6 379.3 449.9 378.8C451.2 378.3 452.1 377.8 452.9 376.4C453.7 375.0 454.2 373.3 454.9 370.5C455.6 367.7 456.3 362.5 456.9 359.6C457.5 356.7 458.0 354.6 458.5 353.2C459.0 351.8 459.4 351.4 459.9 351.2C460.3 351.0 460.7 350.8 461.2 352.0C461.7 353.2 462.2 356.2 462.8 358.6C463.4 361.0 464.1 364.9 464.8 366.5C465.5 368.1 466.0 368.1 466.8 368.5C467.6 368.9 468.6 368.5 469.4 368.9C470.2 369.3 470.9 370.6 471.8 371.1C472.7 371.6 473.6 372.0 474.7 372.1C475.8 372.2 477.2 372.1 478.7 371.9C480.2 371.7 482.0 371.4 483.7 370.9C485.4 370.4 487.0 369.7 488.7 368.9C490.4 368.1 492.0 367.0 493.6 366.1C495.2 365.2 497.1 364.4 498.6 363.5C500.1 362.6 501.4 361.4 502.5 360.6C503.6 359.8 504.5 359.1 505.5 358.6C506.5 358.1 507.5 357.8 508.5 357.6C509.5 357.4 510.3 358.0 511.5 357.6C512.7 357.2 514.2 356.3 515.5 355.2C516.8 354.1 518.2 352.3 519.4 351.2C520.5 350.1 521.5 349.1 522.4 348.3C523.3 347.6 524.2 347.0 525.0 346.7C525.8 346.4 526.3 346.2 527.0 346.7C527.7 347.2 528.5 348.5 529.4 349.6C530.3 350.8 531.1 352.3 532.3 353.6C533.4 354.9 535.0 356.6 536.3 357.6C537.6 358.6 538.8 359.0 540.3 359.6C541.8 360.2 544.4 360.8 545.2 361.0" stroke-width="1.65"/>
</g>
<g fill="none" stroke="#000" stroke-width="2" stroke-linecap="butt">
<path d="M54.5 0V394.3"/>
<path d="M46 394.3H197.6M206 394.3H546"/>
<path d="M46 0.6H54.5M46 99.0H54.5M46 197.3H54.5M46 295.6H54.5M46 394.2H54.5M49.8 50.0H54.5M49.8 148.0H54.5M49.8 246.5H54.5M49.8 345.0H54.5"/>
<path d="M125.7 394.3V402.8M219.7 394.3V402.8M287.6 394.3V402.8M355.5 394.3V402.8M423.4 394.3V402.8M491.3 394.3V402.8M80.9 394.3V398.8M170.4 394.3V398.8M253.6 394.3V398.8M321.5 394.3V398.8M389.5 394.3V398.8M457.3 394.3V398.8M525.2 394.3V398.8"/>
<path d="M193.0 402.1L201.7 387M201.7 402.1L210.3 387" stroke-width="1.9"/>
</g>
<g fill="none" stroke="#000" stroke-width="1.9">
<path d="M422.1 24.2V38.2M427.7 94.6V105M425.6 187.6V197.6M424.6 290.2V302"/>
</g>
<g font-size="16.6px" text-anchor="middle" stroke="#000" stroke-width="0.4">
<text transform="translate(125.8 419.6) scale(0.92 1)">3000</text>
<text transform="translate(219.9 419.6) scale(0.92 1)">1750</text>
<text transform="translate(287.8 419.6) scale(0.92 1)">1500</text>
<text transform="translate(355.7 419.6) scale(0.92 1)">1250</text>
<text transform="translate(423.6 419.6) scale(0.92 1)">1000</text>
<text transform="translate(491.5 419.6) scale(0.92 1)">750</text>
</g>
<g font-size="20px" stroke="#000" stroke-width="0.45">
<text x="416.3" y="21.7">1003</text>
<text x="423" y="90.6">978</text>
<text x="419.9" y="183.9">989</text>
<text x="418.8" y="286.6">993</text>
</g>
<g font-size="23.2px" stroke="#000" stroke-width="0.45">
<text x="559.4" y="60.5">Cu-Gly</text>
<text x="560.4" y="159">Na-Gly</text>
<text x="562.5" y="253.7">Ca-Gly</text>
<text x="560.2" y="331">CW water-Gly</text>
<text x="561.7" y="375">CW water</text>
</g>
<text transform="translate(224.2 453.4) scale(1.088 1)" font-size="17.6px" stroke="#000" stroke-width="0.35">Wavelenght [cm<tspan font-size="9.8px" dy="-10.2" dx="0.3">-1</tspan><tspan dy="10.2" dx="0.8">]</tspan></text>
<text transform="translate(14.2 285) rotate(-90) scale(1.078 1)" font-size="17.7px" stroke="#000" stroke-width="0.35">Absorbance [a.u.]</text>
</svg>
</body></html>
